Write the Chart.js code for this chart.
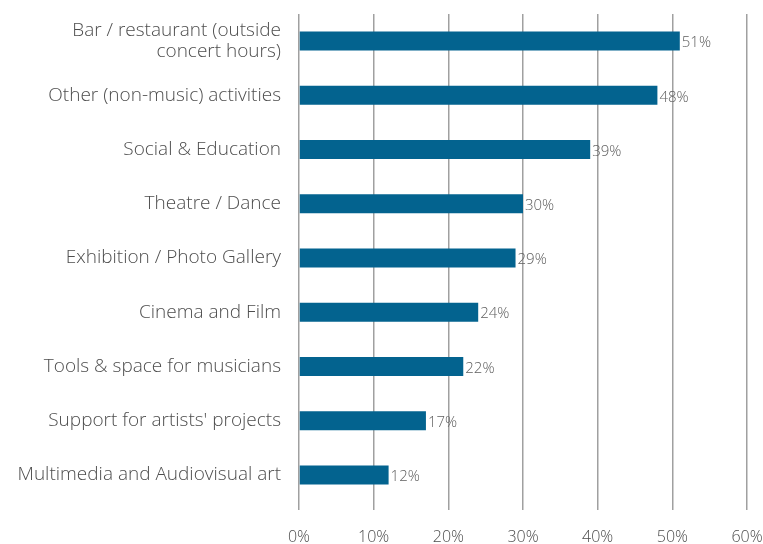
<!DOCTYPE html>
<html>
<head>
<meta charset="utf-8">
<script src="https://cdn.jsdelivr.net/npm/chart.js@4/dist/chart.umd.min.js"></script>
<style>
  html, body { margin: 0; padding: 0; background: #fff; }
  #wrap { width: 763px; height: 544px; }
</style>
</head>
<body>
<div id="wrap"><canvas id="activitiesChart"></canvas></div>
<script>
const CATEGORIES = [
    ['Bar / restaurant (outside', 'concert hours)'],
    'Other (non-music) activities',
    'Social & Education',
    'Theatre / Dance',
    'Exhibition / Photo Gallery',
    'Cinema and Film',
    'Tools & space for musicians',
    'Support for artists\' projects',
    'Multimedia and Audiovisual art'
];
const SHARES = [51, 48, 39, 30, 29, 24, 22, 17, 12];
const X_TICKS = [0, 10, 20, 30, 40, 50, 60];

const BAR_COLOR = '#03638f';
const GRID_COLOR = 'rgba(160, 160, 160, 1)';
const TEXT_COLOR = '#4d4d4d';
const FONT_FAMILY = '"Open Sans", sans-serif';

// writes "NN%" just past the end of each bar
const valueLabels = {
    id: 'valueLabels',
    afterDatasetsDraw(chart) {
        var ctx = chart.ctx;
        var meta = chart.getDatasetMeta(0);
        ctx.save();
        ctx.font = '300 15px ' + FONT_FAMILY;
        ctx.fillStyle = '#606060';
        ctx.textAlign = 'left';
        ctx.textBaseline = 'middle';
        meta.data.forEach((bar, i) => {
            var v = chart.data.datasets[0].data[i];
            ctx.fillText(v + '%', bar.x + 2, bar.y + 2);
        });
        ctx.restore();
    }
};

var ctx = document.getElementById('activitiesChart').getContext('2d');
new Chart(ctx, {
    type: 'bar',
    data: {
        labels: CATEGORIES,
        datasets: [{
            data: SHARES,
            backgroundColor: BAR_COLOR,
            borderWidth: 0,
            barPercentage: 0.7,
            categoryPercentage: 0.5
        }]
    },
    options: {
        indexAxis: 'y',
        responsive: true,
        maintainAspectRatio: false,
        animation: false,
        layout: { padding: { top: 14, right: 0, bottom: 0, left: 0 } },
        plugins: {
            legend: { display: false },
            tooltip: { enabled: false }
        },
        scales: {
            x: {
                min: 0,
                max: 60,
                afterBuildTicks(scale) {
                    scale.ticks = X_TICKS.map(v => ({ value: v }));
                },
                afterFit(scale) {
                    scale.height = 42;
                    scale.paddingLeft = 0;
                    scale.paddingRight = 16;
                },
                border: { display: false },
                grid: {
                    color: GRID_COLOR,
                    lineWidth: 1.5,
                    drawTicks: true,
                    tickLength: 8,
                    tickColor: GRID_COLOR
                },
                ticks: {
                    padding: 18,
                    color: TEXT_COLOR,
                    font: { family: FONT_FAMILY, size: 16, weight: '300' },
                    callback: v => v + '%'
                }
            },
            y: {
                afterFit(scale) {
                    scale.width = 299;
                    scale.paddingTop = 0;
                    scale.paddingBottom = 0;
                },
                border: { display: false },
                grid: { display: false },
                ticks: {
                    padding: 10,
                    color: TEXT_COLOR,
                    font: { family: FONT_FAMILY, size: 19, weight: '300', lineHeight: 1.15 }
                }
            }
        }
    },
    plugins: [valueLabels]
});
</script>
</body>
</html>
